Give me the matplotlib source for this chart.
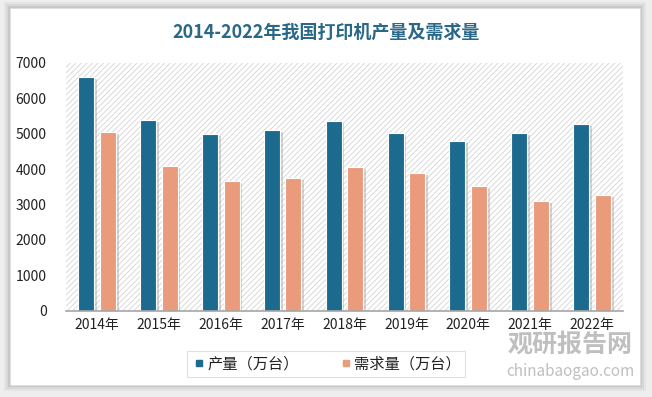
import matplotlib
matplotlib.use("Agg")
import matplotlib.pyplot as plt
import numpy as np
from matplotlib.patches import FancyBboxPatch, Rectangle
from matplotlib.lines import Line2D
import matplotlib.patheffects as pe

plt.rcParams['font.family'] = ['Noto Sans CJK SC', 'DejaVu Sans']
plt.rcParams['hatch.linewidth'] = 0.6

years = ["2014年", "2015年", "2016年", "2017年", "2018年", "2019年", "2020年", "2021年", "2022年"]
production = [6600, 5390, 5000, 5100, 5360, 5020, 4790, 5035, 5290]
demand = [5060, 4090, 3670, 3755, 4075, 3880, 3510, 3105, 3275]
series_names = ["产量（万台）", "需求量（万台）"]
colors = ["#1c6a8e", "#e99b7b"]
title = "2014-2022年我国打印机产量及需求量"
yticks = [0, 1000, 2000, 3000, 4000, 5000, 6000, 7000]

fig = plt.figure(figsize=(6.52, 3.97), dpi=100)
fig.patch.set_facecolor("#eeeeee")

# card with soft shadow
for i, (d, a) in enumerate([(6, 0.04), (4, 0.05), (2, 0.07)]):
    fig.patches.append(FancyBboxPatch((10/652 - d/652, 12/397 - d/397), (630 + 2*d)/652, (377 + 2*d)/397,
                                      boxstyle="square,pad=0", transform=fig.transFigure,
                                      facecolor="black", alpha=a, edgecolor="none", zorder=-3))
fig.patches.append(FancyBboxPatch((10/652, 12/397), 630/652, 377/397, boxstyle="square,pad=0",
                                  transform=fig.transFigure, facecolor="white", edgecolor="#dddddd",
                                  lw=0.5, zorder=-2))

ax = fig.add_axes([66/652, 1 - 310.7/397, 557/652, (310.7 - 63)/397])
ax.set_zorder(2)
ax.set_facecolor("none")
ax.add_patch(Rectangle((0, 0), 1, 1, transform=ax.transAxes, facecolor="white",
                       edgecolor="#d4d4d4", hatch="//////", lw=0, zorder=0))

x = np.arange(len(years))
w = 0.26
off = 0.175
shadow = [pe.SimplePatchShadow(offset=(2, -1.5), shadow_rgbFace="#888888", alpha=0.35), pe.Normal()]
b1 = ax.bar(x - off, production, width=w, color=colors[0], edgecolor="white", lw=0.8, zorder=3)
b2 = ax.bar(x + off, demand, width=w, color=colors[1], edgecolor="white", lw=0.8, zorder=3)
for b in list(b1) + list(b2):
    b.set_path_effects(shadow)

ax.set_xlim(-0.5, len(years) - 0.5)
ax.set_ylim(0, 7000)
ax.set_yticks(yticks)
ax.set_yticklabels([str(v) for v in yticks], fontsize=10, color="#222222")
ax.set_xticks(x)
ax.set_xticklabels(years, fontsize=10, color="#222222")
ax.tick_params(axis="both", length=0)
ax.tick_params(axis="y", pad=14)
ax.tick_params(axis="x", pad=5)
for s in ["top", "right", "left"]:
    ax.spines[s].set_visible(False)
ax.spines["bottom"].set_color("#a6a6a6")
ax.spines["bottom"].set_linewidth(1.2)
ax.spines["bottom"].set_zorder(4)

fig.text(326/652, 1 - 32/397, title, ha="center", va="center", fontsize=13,
         fontweight="bold", color="#2a6888")

handles = [Line2D([], [], marker="s", ls="none", markersize=5, color=c) for c in colors]
leg = fig.legend(handles, series_names, loc="center", bbox_to_anchor=(326/652, 1 - 364/397),
                 ncol=2, fontsize=11, frameon=True, handletextpad=0.0, handlelength=1.0,
                 columnspacing=2.6, borderpad=0.3, borderaxespad=0, fancybox=False,
                 edgecolor="#d9d9d9")
leg.get_frame().set_linewidth(0.8)
for t in leg.get_texts():
    t.set_color("#222222")

# watermark
fig.text(570/652, 1 - 345/397, "观研报告网", ha="center", va="center", fontsize=18,
         fontweight="bold", color="#b8b8b8", alpha=0.9)
fig.text(570/652, 1 - 371/397, "chinabaogao.com", ha="center", va="center", fontsize=11,
         color="#b8b8b8", alpha=0.9)

fig.savefig("out.png", dpi=100, facecolor=fig.get_facecolor())
